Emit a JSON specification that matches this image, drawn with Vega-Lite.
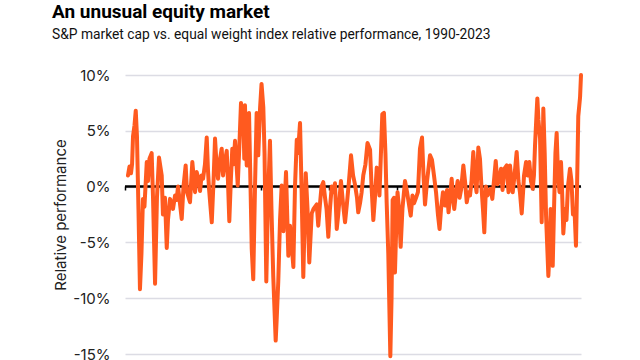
{
  "$schema": "https://vega.github.io/schema/vega-lite/v6.json",
  "width": 456,
  "height": 279,
  "autosize": "none",
  "padding": {"left": 125, "top": 75, "right": 59, "bottom": 6},
  "background": "white",
  "title": {
    "text": "An unusual equity market",
    "subtitle": "S&P market cap vs. equal weight index relative performance, 1990-2023",
    "anchor": "start",
    "frame": "group",
    "dx": -73,
    "offset": 26,
    "font": "Roboto",
    "fontSize": 19,
    "fontWeight": "bold",
    "color": "#000000",
    "subtitleFont": "Roboto",
    "subtitleFontSize": 13.8,
    "subtitleColor": "#111111",
    "subtitlePadding": 6
  },
  "config": {
    "view": {"stroke": null},
    "font": "Inter"
  },
  "layer": [
    {
      "data": {"values": [{"z": 0}]},
      "mark": {"type": "rule", "color": "#000000", "strokeWidth": 2.5},
      "encoding": {
        "y": {"field": "z", "type": "quantitative", "scale": {"domain": [-15, 10]}}
      }
    },
    {
      "data": {"values": [
        {"t": 1990.22, "v": 1.0}, {"t": 1990.33, "v": 1.8}, {"t": 1990.44, "v": 1.2}, {"t": 1990.52, "v": 2.0},
        {"t": 1990.59, "v": 4.5}, {"t": 1990.70, "v": 5.5}, {"t": 1990.79, "v": 6.8}, {"t": 1990.88, "v": 4.5},
        {"t": 1990.99, "v": -2.0}, {"t": 1991.10, "v": -9.2}, {"t": 1991.21, "v": -6.0}, {"t": 1991.32, "v": -1.1},
        {"t": 1991.43, "v": -1.8}, {"t": 1991.60, "v": 2.2}, {"t": 1991.69, "v": 0.5}, {"t": 1991.80, "v": 2.5},
        {"t": 1991.96, "v": 3.0}, {"t": 1992.06, "v": -1.0}, {"t": 1992.21, "v": -8.7}, {"t": 1992.35, "v": -1.0},
        {"t": 1992.50, "v": 2.6}, {"t": 1992.70, "v": 1.0}, {"t": 1992.79, "v": -2.5}, {"t": 1992.94, "v": -1.0},
        {"t": 1993.07, "v": -5.5}, {"t": 1993.16, "v": -3.0}, {"t": 1993.31, "v": -1.1}, {"t": 1993.42, "v": -1.5},
        {"t": 1993.53, "v": -2.0}, {"t": 1993.68, "v": -0.8}, {"t": 1993.79, "v": -1.2}, {"t": 1993.90, "v": 0.0},
        {"t": 1994.04, "v": -1.5}, {"t": 1994.17, "v": -2.9}, {"t": 1994.30, "v": 0.0}, {"t": 1994.46, "v": 1.9},
        {"t": 1994.56, "v": -0.5}, {"t": 1994.78, "v": -1.4}, {"t": 1994.95, "v": 2.2}, {"t": 1995.15, "v": -0.5},
        {"t": 1995.27, "v": 1.3}, {"t": 1995.40, "v": 0.7}, {"t": 1995.52, "v": -0.4}, {"t": 1995.63, "v": 1.0},
        {"t": 1995.74, "v": 0.7}, {"t": 1995.88, "v": 2.0}, {"t": 1996.01, "v": 4.4}, {"t": 1996.10, "v": 1.5},
        {"t": 1996.18, "v": -0.2}, {"t": 1996.38, "v": -3.2}, {"t": 1996.51, "v": 0.5}, {"t": 1996.62, "v": 4.3},
        {"t": 1996.73, "v": 2.0}, {"t": 1996.84, "v": 0.7}, {"t": 1996.99, "v": 2.5}, {"t": 1997.11, "v": 3.4},
        {"t": 1997.21, "v": 1.0}, {"t": 1997.30, "v": 1.9}, {"t": 1997.48, "v": 3.2}, {"t": 1997.57, "v": 0.5},
        {"t": 1997.67, "v": -3.1}, {"t": 1997.79, "v": 0.8}, {"t": 1997.89, "v": 3.4}, {"t": 1997.99, "v": 2.0},
        {"t": 1998.09, "v": 4.1}, {"t": 1998.20, "v": 2.0}, {"t": 1998.29, "v": 0.1}, {"t": 1998.42, "v": 4.0},
        {"t": 1998.53, "v": 7.5}, {"t": 1998.63, "v": 5.0}, {"t": 1998.70, "v": 6.4}, {"t": 1998.77, "v": 2.5},
        {"t": 1998.82, "v": 7.3}, {"t": 1998.95, "v": 1.9}, {"t": 1999.04, "v": 5.0}, {"t": 1999.12, "v": 6.6},
        {"t": 1999.23, "v": 0.0}, {"t": 1999.32, "v": -5.6}, {"t": 1999.43, "v": -8.3}, {"t": 1999.56, "v": 0.0},
        {"t": 1999.68, "v": 6.6}, {"t": 1999.80, "v": 2.8}, {"t": 1999.93, "v": 7.0}, {"t": 2000.04, "v": 9.2},
        {"t": 2000.17, "v": 7.1}, {"t": 2000.26, "v": 3.0}, {"t": 2000.39, "v": -8.5}, {"t": 2000.52, "v": -1.0},
        {"t": 2000.66, "v": 4.1}, {"t": 2000.77, "v": -2.0}, {"t": 2000.90, "v": -8.0}, {"t": 2001.08, "v": -13.8},
        {"t": 2001.15, "v": -12.0}, {"t": 2001.27, "v": -8.5}, {"t": 2001.40, "v": -3.0}, {"t": 2001.52, "v": 0.1},
        {"t": 2001.65, "v": -4.0}, {"t": 2001.84, "v": 1.3}, {"t": 2002.01, "v": -6.2}, {"t": 2002.13, "v": -3.5},
        {"t": 2002.24, "v": -5.0}, {"t": 2002.38, "v": -7.2}, {"t": 2002.50, "v": 0.0}, {"t": 2002.63, "v": 4.2},
        {"t": 2002.72, "v": 3.0}, {"t": 2002.87, "v": 5.7}, {"t": 2002.98, "v": 0.0}, {"t": 2003.11, "v": -8.1},
        {"t": 2003.29, "v": 1.2}, {"t": 2003.42, "v": -2.0}, {"t": 2003.55, "v": -6.8}, {"t": 2003.73, "v": -2.4},
        {"t": 2003.86, "v": -2.0}, {"t": 2004.10, "v": -1.6}, {"t": 2004.21, "v": -3.5}, {"t": 2004.34, "v": -1.5},
        {"t": 2004.45, "v": 0.0}, {"t": 2004.58, "v": 0.4}, {"t": 2004.71, "v": -1.0}, {"t": 2004.82, "v": -2.0},
        {"t": 2004.95, "v": -4.5}, {"t": 2005.07, "v": -2.0}, {"t": 2005.20, "v": 0.0}, {"t": 2005.32, "v": -0.5},
        {"t": 2005.44, "v": 0.3}, {"t": 2005.57, "v": -3.8}, {"t": 2005.68, "v": -2.5}, {"t": 2005.88, "v": 0.5},
        {"t": 2006.03, "v": -1.5}, {"t": 2006.18, "v": -3.2}, {"t": 2006.32, "v": -1.5}, {"t": 2006.47, "v": 0.5},
        {"t": 2006.62, "v": 2.8}, {"t": 2006.77, "v": 1.0}, {"t": 2006.91, "v": 0.2}, {"t": 2007.06, "v": -1.0},
        {"t": 2007.15, "v": -2.3}, {"t": 2007.28, "v": -1.5}, {"t": 2007.40, "v": -0.5}, {"t": 2007.52, "v": 1.0},
        {"t": 2007.68, "v": 2.0}, {"t": 2007.83, "v": 3.9}, {"t": 2008.02, "v": 3.3}, {"t": 2008.13, "v": 0.0},
        {"t": 2008.26, "v": -3.0}, {"t": 2008.38, "v": -1.0}, {"t": 2008.51, "v": 1.7}, {"t": 2008.63, "v": 1.5},
        {"t": 2008.71, "v": -0.8}, {"t": 2008.82, "v": 3.0}, {"t": 2008.92, "v": 6.5}, {"t": 2009.04, "v": 6.6},
        {"t": 2009.15, "v": 3.0}, {"t": 2009.24, "v": -1.4}, {"t": 2009.36, "v": -6.0}, {"t": 2009.51, "v": -15.2},
        {"t": 2009.60, "v": -10.0}, {"t": 2009.68, "v": -1.2}, {"t": 2009.78, "v": -1.0}, {"t": 2009.85, "v": -7.7},
        {"t": 2009.96, "v": -3.0}, {"t": 2010.04, "v": -0.5}, {"t": 2010.15, "v": -2.0}, {"t": 2010.27, "v": -5.4},
        {"t": 2010.40, "v": -2.0}, {"t": 2010.59, "v": 0.5}, {"t": 2010.74, "v": -0.5}, {"t": 2010.83, "v": -1.2},
        {"t": 2011.01, "v": -2.6}, {"t": 2011.14, "v": -0.8}, {"t": 2011.25, "v": -1.5}, {"t": 2011.40, "v": -1.0},
        {"t": 2011.54, "v": -0.5}, {"t": 2011.69, "v": 3.4}, {"t": 2011.84, "v": 4.4}, {"t": 2011.95, "v": 1.0},
        {"t": 2012.06, "v": -1.6}, {"t": 2012.21, "v": 0.5}, {"t": 2012.43, "v": 2.8}, {"t": 2012.57, "v": 2.4},
        {"t": 2012.72, "v": 1.0}, {"t": 2012.87, "v": -0.5}, {"t": 2013.01, "v": -2.5}, {"t": 2013.13, "v": -3.8},
        {"t": 2013.24, "v": -2.0}, {"t": 2013.38, "v": -0.5}, {"t": 2013.53, "v": -1.7}, {"t": 2013.68, "v": -0.3},
        {"t": 2013.79, "v": -2.3}, {"t": 2013.90, "v": -1.0}, {"t": 2014.02, "v": 0.7}, {"t": 2014.12, "v": -1.0},
        {"t": 2014.21, "v": -2.0}, {"t": 2014.34, "v": -0.5}, {"t": 2014.46, "v": 0.5}, {"t": 2014.60, "v": -1.0},
        {"t": 2014.71, "v": -0.3}, {"t": 2014.88, "v": 1.9}, {"t": 2015.00, "v": 0.5}, {"t": 2015.13, "v": -1.4},
        {"t": 2015.26, "v": -0.5}, {"t": 2015.37, "v": -0.8}, {"t": 2015.48, "v": 0.5}, {"t": 2015.61, "v": 3.1},
        {"t": 2015.74, "v": 0.5}, {"t": 2015.85, "v": -0.5}, {"t": 2015.98, "v": 3.5}, {"t": 2016.10, "v": 2.5},
        {"t": 2016.21, "v": 0.0}, {"t": 2016.32, "v": -2.0}, {"t": 2016.42, "v": -4.1}, {"t": 2016.54, "v": 0.0},
        {"t": 2016.65, "v": -0.8}, {"t": 2016.77, "v": -0.4}, {"t": 2016.88, "v": -0.2}, {"t": 2017.01, "v": -1.1},
        {"t": 2017.13, "v": 0.5}, {"t": 2017.26, "v": 2.3}, {"t": 2017.39, "v": 0.2}, {"t": 2017.50, "v": 0.5},
        {"t": 2017.65, "v": 1.6}, {"t": 2017.76, "v": -0.3}, {"t": 2017.90, "v": 1.6}, {"t": 2018.07, "v": 1.9},
        {"t": 2018.20, "v": -0.5}, {"t": 2018.31, "v": 1.9}, {"t": 2018.38, "v": 1.0}, {"t": 2018.51, "v": -0.5},
        {"t": 2018.64, "v": 1.0}, {"t": 2018.80, "v": 3.1}, {"t": 2018.93, "v": 0.5}, {"t": 2019.04, "v": -0.5},
        {"t": 2019.17, "v": -2.4}, {"t": 2019.27, "v": -0.5}, {"t": 2019.34, "v": 1.0}, {"t": 2019.49, "v": 2.2},
        {"t": 2019.60, "v": 1.0}, {"t": 2019.73, "v": 2.2}, {"t": 2019.85, "v": 0.5}, {"t": 2019.98, "v": -0.2},
        {"t": 2020.07, "v": 1.0}, {"t": 2020.15, "v": 3.7}, {"t": 2020.24, "v": 6.0}, {"t": 2020.32, "v": 7.9},
        {"t": 2020.40, "v": 6.0}, {"t": 2020.52, "v": 4.3}, {"t": 2020.64, "v": -3.2}, {"t": 2020.76, "v": 7.0},
        {"t": 2020.86, "v": 3.0}, {"t": 2020.96, "v": -2.6}, {"t": 2021.13, "v": -8.0}, {"t": 2021.21, "v": -6.0},
        {"t": 2021.30, "v": -2.0}, {"t": 2021.45, "v": -7.1}, {"t": 2021.57, "v": -0.8}, {"t": 2021.65, "v": 3.0},
        {"t": 2021.74, "v": 4.8}, {"t": 2021.84, "v": 1.0}, {"t": 2021.95, "v": -0.5}, {"t": 2022.06, "v": 2.2},
        {"t": 2022.13, "v": 0.0}, {"t": 2022.23, "v": -4.2}, {"t": 2022.35, "v": -2.0}, {"t": 2022.46, "v": -3.0},
        {"t": 2022.57, "v": 0.0}, {"t": 2022.72, "v": 1.6}, {"t": 2022.83, "v": 0.5}, {"t": 2022.94, "v": -2.5},
        {"t": 2023.05, "v": -2.0}, {"t": 2023.16, "v": -5.3}, {"t": 2023.24, "v": 0.0}, {"t": 2023.33, "v": 6.3},
        {"t": 2023.46, "v": 8.0}, {"t": 2023.53, "v": 10.0}
      ]},
      "mark": {"type": "line", "color": "#ff5a1f", "strokeWidth": 4, "strokeJoin": "round", "strokeCap": "round"},
      "encoding": {
        "x": {
          "field": "t", "type": "quantitative",
          "scale": {"domain": [1990, 2023.53], "nice": false, "zero": false},
          "axis": {
            "orient": "bottom", "offset": -168, "domain": false, "grid": false,
            "labels": false, "title": null, "ticks": true, "tickSize": 4,
            "tickColor": "#000000", "tickWidth": 1.5,
            "values": [1990, 1995, 2000, 2005, 2010, 2015, 2020]
          }
        },
        "y": {
          "field": "v", "type": "quantitative",
          "scale": {"domain": [-15, 10], "nice": false},
          "axis": {
            "values": [-15, -10, -5, 0, 5, 10],
            "labelExpr": "datum.value + '%'",
            "domain": false, "ticks": false,
            "grid": true, "gridColor": "#dcdce4", "gridWidth": 1.5,
            "labelFont": "Inter", "labelFontSize": 15, "labelColor": "#222222",
            "labelPadding": 15,
            "title": "Relative performance", "titleFont": "Inter", "titleFontSize": 15,
            "titleFontWeight": "normal", "titleColor": "#222222", "titlePadding": 4
          }
        }
      }
    }
  ]
}
